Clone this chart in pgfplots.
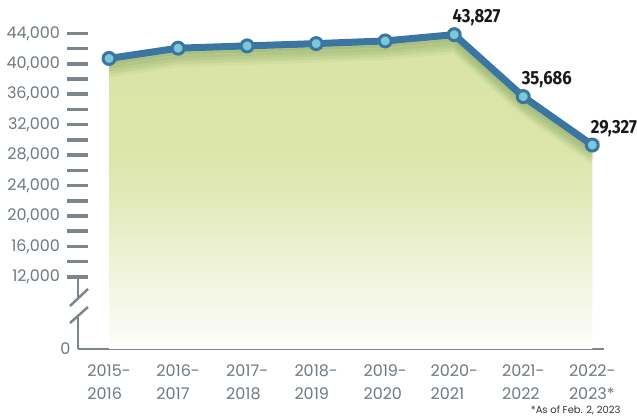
\documentclass[border=0pt]{standalone}
\usepackage{pgfplots}
\pgfplotsset{compat=1.18}
\usepackage{fontspec}
\setmainfont{Poppins}
\newfontfamily\valfont[FakeStretch=0.88]{Fira Sans}
\definecolor{linecol}{HTML}{3B76A2}
\definecolor{markcol}{HTML}{7CC8D5}
\definecolor{axiscol}{HTML}{7B868D}
\definecolor{labcol}{HTML}{6E7A82}
\definecolor{shadowcol}{HTML}{8AAA66}
\definecolor{fillA}{HTML}{DAE4A6}
\definecolor{fillB}{HTML}{DCE5AA}
\definecolor{fillC}{HTML}{E2E9BA}
\definecolor{fillD}{HTML}{ECF1D2}
\definecolor{fillE}{HTML}{F4F7E6}
\definecolor{fillF}{HTML}{FBFCF6}
\pgfdeclareverticalshading{areafill}{100bp}{color(0bp)=(white); color(25bp)=(white);
  color(27bp)=(fillF); color(33bp)=(fillE); color(41bp)=(fillD); color(49bp)=(fillC);
  color(57bp)=(fillB); color(75bp)=(fillA); color(100bp)=(fillA)}

\pgfplotstableread{
x y
0 40700
1 42050
2 42350
3 42650
4 43000
5 43827
6 35686
7 29327
}\enrol

\begin{document}
\begin{tikzpicture}
\begin{axis}[
    scale only axis,
    width=526pt, height=349pt,
    xmin=-0.45, xmax=7.17,
    ymin=2530, ymax=48380,
    axis lines*=left,
    x axis line style={draw=axiscol, line width=2pt},
    y axis line style={draw=none},
    xtick={0,...,7},
    xticklabels={{2015-\\2016},{2016-\\2017},{2017-\\2018},{2018-\\2019},
                 {2019-\\2020},{2020-\\2021},{2021-\\2022},{2022-\\2023*}},
    x tick style={draw=none},
    y tick style={draw=axiscol, line width=3.5pt},
    xticklabel style={align=left, font=\fontsize{16}{23}\selectfont, text=labcol, yshift=-2pt},
    ytick={12000,16000,...,44000},
    yticklabels={12{,}000,16{,}000,20{,}000,24{,}000,28{,}000,32{,}000,36{,}000,40{,}000,44{,}000},
    minor ytick={14000,18000,...,42000},
    extra y ticks={2530},
    extra y tick labels={0},
    extra y tick style={major tick length=0pt},
    tick align=center,
    major tick length=21pt, minor tick length=21pt,
    yticklabel style={font=\fontsize{16}{19}\selectfont, text=labcol, xshift=-4pt},
    /pgf/number format/assume math mode=true,
    clip=false,
]
% area under the line
\addplot[draw=none, shading=areafill] table {\enrol} \closedcycle;
% soft green shadow below the line
\addplot[draw=shadowcol, line width=6pt, opacity=0.10, yshift=-16pt, line join=round] table {\enrol};
\addplot[draw=shadowcol, line width=6pt, opacity=0.17, yshift=-13pt, line join=round] table {\enrol};
\addplot[draw=shadowcol, line width=6pt, opacity=0.25, yshift=-10pt, line join=round] table {\enrol};
\addplot[draw=shadowcol, line width=6pt, opacity=0.33, yshift=-7pt, line join=round] table {\enrol};
\addplot[draw=shadowcol, line width=5pt, opacity=0.42, yshift=-4pt, line join=round] table {\enrol};
% main line
\addplot[draw=linecol, line width=7pt, line join=round,
    mark=*, mark size=6pt, mark options={fill=markcol, draw=linecol, line width=3pt}]
    table {\enrol};
% value labels on the last three points
\addplot[draw=none, mark=none,
    point meta=explicit symbolic,
    nodes near coords={\pgfplotspointmeta},
    every node near coord/.append style={anchor=south west, xshift=-5pt, yshift=5pt,
        font=\valfont\bfseries\fontsize{19}{20}\selectfont, text=black!90}]
    coordinates {(5,43827) [43{,}827] (6,35686) [35{,}686] (7,29327) [29{,}327]};
% axis break on the y axis
\draw[axiscol, line width=2pt] (axis cs:-0.45,12000) -- (axis cs:-0.45,9400);
\draw[axiscol, line width=2pt] (axis cs:-0.45,7000) -- (axis cs:-0.45,2530);
\draw[axiscol, line width=2.5pt] (axis cs:-0.566,8184) -- (axis cs:-0.305,10420);
\draw[axiscol, line width=2.5pt] (axis cs:-0.566,5950) -- (axis cs:-0.305,8050);
\node[anchor=base east, font=\fontsize{10}{12}\selectfont, text=black!80]
    at ([xshift=20pt, yshift=-64pt]rel axis cs:1,0) {*As of Feb. 2, 2023};
\coordinate (bl) at (rel axis cs:0,0);
\coordinate (tr) at (rel axis cs:1,1);
\end{axis}
\pgfresetboundingbox
\path ([shift={(-78pt,-71pt)}]bl) rectangle ([shift={(33pt,0pt)}]tr);
\end{tikzpicture}
\end{document}
